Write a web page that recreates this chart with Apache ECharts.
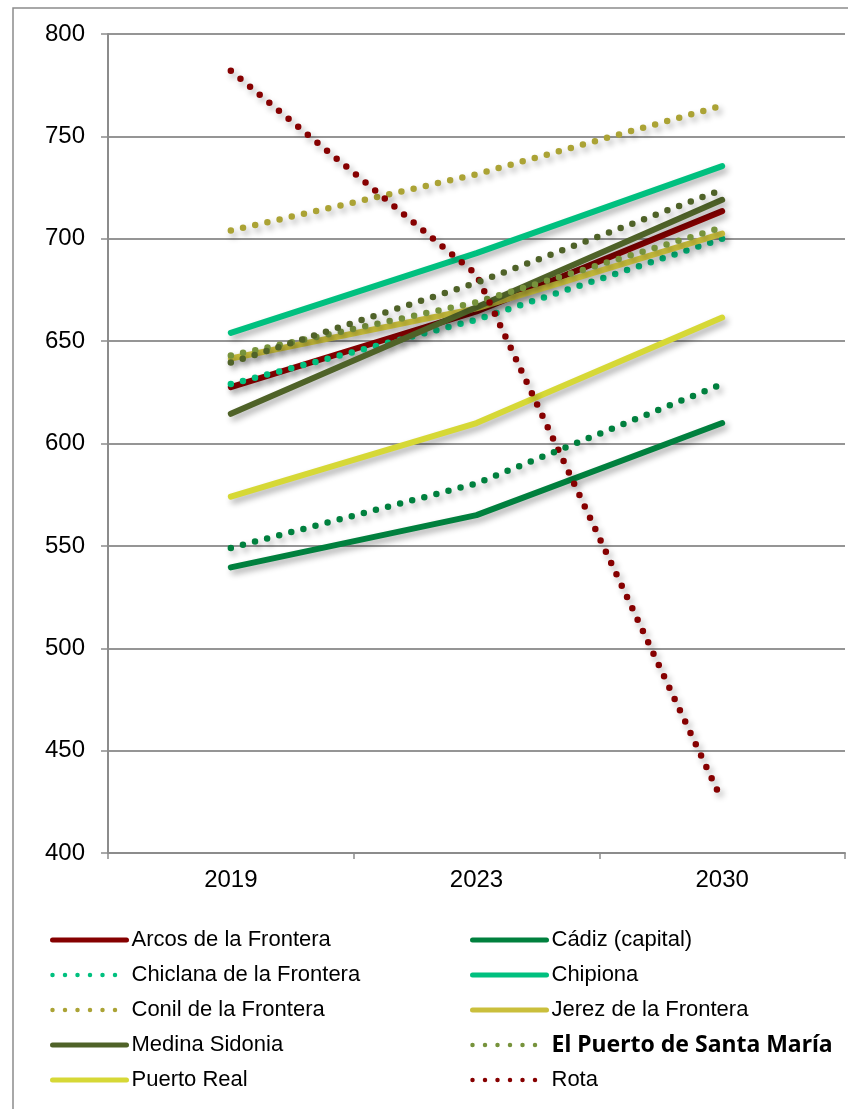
<!DOCTYPE html>
<html>
<head>
<meta charset="utf-8">
<script src="https://cdn.jsdelivr.net/npm/echarts@6/dist/echarts.min.js"></script>
<style>
html,body{margin:0;padding:0;background:#fff;}
#chart{width:848px;height:1109px;}
</style>
</head>
<body>
<div id="chart"></div>
<script>
const years = ['2019', '2023', '2030'];
const yTicks = [400, 450, 500, 550, 600, 650, 700, 750, 800];

const arcos = [627.5, 664.5, 713.5];
const cadiz = [539.5, 565, 610];
const chiclana = [629, 660.5, 700];
const chipiona = [654, 693, 735.5];
const conil = [704, 731.5, 765];
const jerez = [641.5, 666, 702.5];
const medina = [614.5, 666.5, 719];
const elPuerto = [643, 669, 705.5];
const puertoReal = [574, 610, 661.5];
const rota = [782, 682.5, 425.5];
const sanFernando = [549, 580.5, 629];
const sanlucar = [639.5, 678.5, 724];

const names = ['Arcos de la Frontera', 'Cádiz (capital)', 'Chiclana de la Frontera', 'Chipiona',
  'Conil de la Frontera', 'Jerez de la Frontera', 'Medina Sidonia', 'El Puerto de Santa María',
  'Puerto Real', 'Rota', 'San Fernando', 'Sanlúcar de Barrameda'];
const values = [arcos, cadiz, chiclana, chipiona, conil, jerez, medina, elPuerto, puertoReal, rota, sanFernando, sanlucar];
const colors = ['#850000', '#00803e', '#00c07f', '#00c07f', '#aba335', '#cabf3c', '#4f6228', '#77933c',
  '#d6d836', '#860000', '#00803e', '#4f6228'];
const dotted = [false, false, true, false, true, false, false, true, false, true, true, true];

const series = names.map((n, i) => ({
  name: n,
  type: 'line',
  data: values[i],
  symbol: 'none',
  showSymbol: false,
  silent: true,
  lineStyle: {
    color: colors[i],
    width: dotted[i] ? 6.5 : 6,
    type: dotted[i] ? [0, 12.5] : 'solid',
    cap: 'round',
    join: 'round',
    shadowColor: 'rgba(0,0,0,0.32)',
    shadowBlur: 6,
    shadowOffsetX: 3,
    shadowOffsetY: 4
  },
  itemStyle: { color: colors[i] }
}));

const legendFont = "'Liberation Sans', Arial, sans-serif";
function legendItem(i) {
  const item = {
    name: names[i],
    itemStyle: { opacity: 0 },
    lineStyle: {
      width: dotted[i] ? 4.5 : 5,
      type: dotted[i] ? [0, 12.5] : 'solid',
      cap: 'round',
      shadowBlur: 0, shadowOffsetX: 0, shadowOffsetY: 0, shadowColor: 'transparent'
    }
  };
  if (i === 7) {
    item.textStyle = { fontFamily: "'Noto Sans', sans-serif", fontWeight: 'bold', fontSize: 23 };
  }
  return item;
}
const legendCommon = {
  orient: 'vertical',
  top: 927,
  padding: 0,
  itemWidth: 74,
  itemHeight: 14,
  itemGap: 9,
  selectedMode: false,
  textStyle: { fontFamily: legendFont, fontSize: 22, color: '#000', lineHeight: 26 },
  itemStyle: { opacity: 0 },
  lineStyle: { width: 5, shadowBlur: 0, shadowOffsetX: 0, shadowOffsetY: 0 }
};

const chart = echarts.init(document.getElementById('chart'), null, { renderer: 'canvas' });
chart.setOption({
  animation: false,
  backgroundColor: '#fff',
  graphic: [{
    type: 'rect', z: -10,
    shape: { x: 13, y: 8, width: 900, height: 1200 },
    style: { fill: 'none', stroke: '#8c8c8c', lineWidth: 1.5 }
  }],
  legend: [
    Object.assign({ left: 50, data: [0, 2, 4, 6, 8].map(legendItem) }, legendCommon),
    Object.assign({ left: 470, data: [1, 3, 5, 7, 9].map(legendItem) }, legendCommon)
  ],
  grid: { left: 108, right: 3, top: 34, bottom: 256, containLabel: false },
  xAxis: {
    type: 'category',
    data: years,
    boundaryGap: true,
    axisLine: { show: true, lineStyle: { color: '#8c8c8c', width: 2 } },
    axisTick: { show: true, length: 6, lineStyle: { color: '#8c8c8c', width: 1.5 } },
    axisLabel: { color: '#000', fontSize: 24, fontFamily: "'Liberation Sans', Arial, sans-serif", margin: 15 },
    splitLine: { show: false }
  },
  yAxis: {
    type: 'value',
    min: yTicks[0],
    max: yTicks[yTicks.length - 1],
    interval: yTicks[1] - yTicks[0],
    axisLine: { show: true, lineStyle: { color: '#8c8c8c', width: 2 } },
    axisTick: { show: true, length: 7, lineStyle: { color: '#8c8c8c', width: 1.5 } },
    axisLabel: { color: '#000', fontSize: 24, fontFamily: "'Liberation Sans', Arial, sans-serif", margin: 23 },
    splitLine: { show: true, lineStyle: { color: '#959595', width: 2 } }
  },
  series: series
});
</script>
</body>
</html>
